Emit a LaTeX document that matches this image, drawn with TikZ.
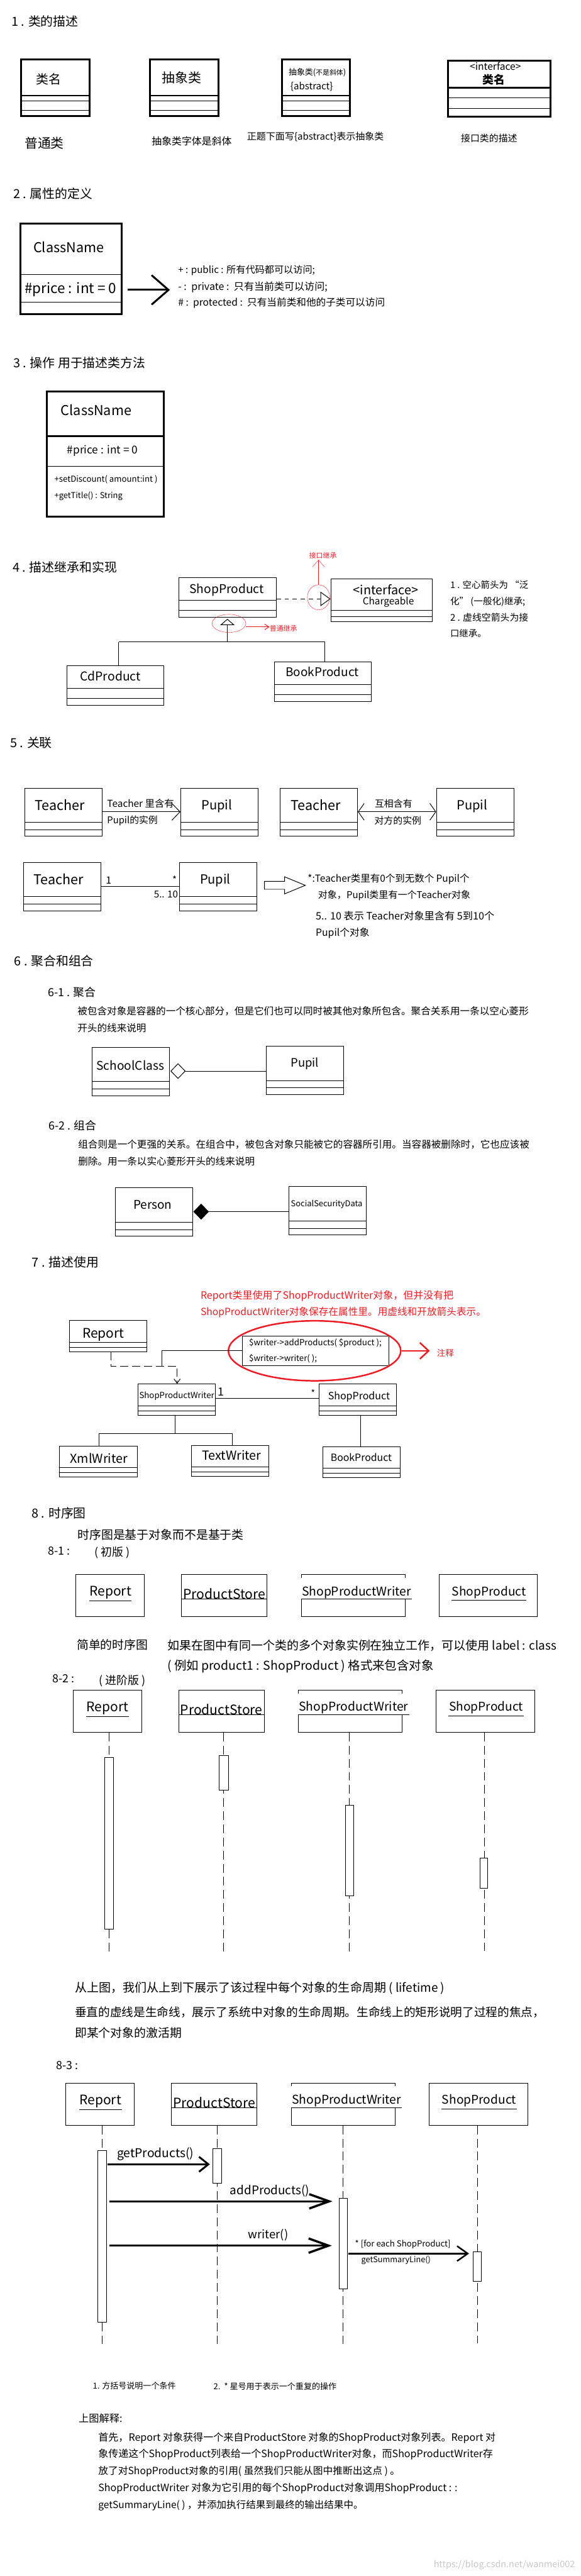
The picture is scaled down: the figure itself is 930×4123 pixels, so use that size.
\documentclass[tikz,border=0pt]{standalone}
\usepackage{fontspec}
\setmainfont{Noto Sans CJK SC}
\usetikzlibrary{arrows.meta,fit,shapes.geometric}
\definecolor{notered}{RGB}{237,28,36}
\newlength{\fitlen}
% set a line at the font size that gives it the width asked for
\newcommand{\fitt}[2]{\settowidth{\fitlen}{\fontsize{10}{10}\selectfont #2}%
    \pgfmathsetmacro{\fitsize}{10*#1/\fitlen}\fontsize{\fitsize}{\fitsize}\selectfont #2}
\newcommand{\fitw}[2]{\fitt{#1}{\rule[-.25em]{0pt}{1.26em}#2}}
\newcommand{\fitl}[2]{\fitt{#1}{\rule[-.25em]{0pt}{1em}#2}}
\tikzset{
    txt/.style={inner sep=0pt, anchor=west, font=\fontsize{#1}{#1}\selectfont,
        execute at begin node={\rule[-.25em]{0pt}{1.26em}}},
    cname/.style={txt=#1, anchor=center},
    lbl/.style={inner sep=0pt, anchor=center},
    lblw/.style={inner sep=0pt, anchor=west},
    heading/.style={txt=20},
    umlbox/.style={draw, line width=1pt, inner sep=0pt},
    umlheavy/.style={line width=3pt},
    objbox/.style={draw, line width=1pt, inner sep=0pt, minimum height=67.2pt},
    objlabel/.style={inner sep=0pt, anchor=south, text height=20pt, text depth=#1},
    lifeline/.style={line width=.8pt, dash pattern=on 14pt off 7pt},
    actbar/.style={draw, fill=white, line width=1pt, inner sep=0pt},
    redloop/.style={ellipse, draw=notered, inner sep=0pt},
    barb/.style n args={2}{-{Straight Barb[length=#1,width=#2]}}
}
\newcommand{\umlclass}[7][]{%
    \node[umlbox,#1,fit={(#3,#4)(#5,#6)}] (#2) {};
    \foreach \ly in {#7} \draw[line width=1pt] (#2.west |- 0,\ly) -- (#2.east |- 0,\ly);
}
\newcommand{\seqheads}[3]{%
    \begin{scope}[shift={(#2,#3)}, name prefix=#1]
        \node[objbox, minimum width=109.7pt] (report) at (176.5,33.6) {};
        \node[objbox, minimum width=137pt] (store) at (359.1,33.6) {};
        \node[objbox, minimum width=166.1pt] (writer) at (565.8,33.6) {};
        \node[objbox, minimum width=157.8pt] (product) at (781.7,33.6) {};
        \node[objlabel=7.9pt, minimum width=67.6pt] (reportLabel) at (176.8,42.3) {\fitt{67}{Report}};
        \node[objlabel=0pt, minimum width=137pt] (storeLabel) at (359.1,39.1) {\fitt{131.7}{ProductStore}};
        \node[objlabel=5.5pt, fill=white, minimum width=177.5pt, text height=28.5pt] (writerLabel) at (570.7,39.1) {\fitt{175}{ShopProductWriter}};
        \node[objlabel=7.5pt, minimum width=119.8pt] (productLabel) at (782.9,41.1) {\fitt{118.6}{ShopProduct}};
        \foreach \who in {report,store,writer,product}
            \draw[line width=1pt] (\who Label.south west) -- (\who Label.south east);
    \end{scope}
}

\begin{document}
\begin{tikzpicture}[x=1pt,y=-1pt]
    \useasboundingbox (0,0) rectangle (930,4123);

    % 1
    \node[heading] (titleOne) at (18,34) {1 . 类的描述};
    \umlclass[umlheavy]{plainClass}{34}{95}{143}{186}{162,176.5}
    \umlclass[umlheavy]{italicClass}{240}{95}{350}{186}{162,176.5}
    \umlclass[umlheavy]{braceClass}{451}{95}{560}{186}{162,176.5}
    \umlclass[umlheavy]{faceClass}{717}{97}{881}{187}{156.5,173.4}
    \draw[umlheavy] (plainClass.west |- 0,153) -- (plainClass.east |- 0,153);
    \draw[umlheavy] (italicClass.west |- 0,153) -- (italicClass.east |- 0,153);
    \draw[umlheavy] (braceClass.west |- 0,153) -- (braceClass.east |- 0,153);
    \draw[umlheavy] (faceClass.west |- 0,140) -- (faceClass.east |- 0,140);
    \node[cname=20] (plainName) at (78,127) {类名};
    \node[cname=21] (italicName) at (291,124) {抽象类};
    \node[cname=13] (braceName) at (508,115.6) {抽象类({\fontsize{11}{11}\selectfont 不是斜体})};
    \node[lbl] (braceTag) at (499,139) {\fitl{68}{\{abstract\}}};
    \node[lbl] (faceTag) at (793,108) {\fitl{82}{<interface>}};
    \node[cname=18, font=\fontsize{18}{18}\selectfont\bfseries] (faceName) at (790.6,128) {类名};
    \node[cname=21] (plainNote) at (71,229) {普通类};
    \node[cname=16] (italicNote) at (307,225.5) {抽象类字体是斜体};
    \node[lbl] (braceNote) at (505,218) {\fitw{219}{正题下面写\{abstract\}表示抽象类}};
    \node[cname=15] (faceNote) at (783,221) {接口类的描述};

    % 2
    \node[heading] (titleTwo) at (21,310) {2 . 属性的定义};
    \umlclass[umlheavy]{attrClass}{33}{358}{194.5}{503}{439.5,483.5}
    \node[lbl] (attrName) at (110,398) {\fitl{113}{ClassName}};
    \node[lbl] (attrPrice) at (113,464) {\fitl{147}{\#price : int = 0}};
    \coordinate (attrFrom) at (204,464);
    \coordinate (attrTo) at (272,464);
    \draw[umlheavy, barb={27pt}{47pt}] (attrFrom) -- (attrTo);
    \node[lblw] (attrPublic) at (285,432) {\fitw{219}{+ : public : 所有代码都可以访问;}};
    \node[lblw] (attrPrivate) at (285,458) {\fitw{239}{- :\, private :\, 只有当前类可以访问;}};
    \node[lblw] (attrProtected) at (285,484) {\fitw{331}{\# :\, protected :\, 只有当前类和他的子类可以访问}};

    % 3
    \node[heading] (titleThree) at (21,580.5) {3 . 操作 用于描述类方法};
    \umlclass[umlheavy]{opClass}{75}{627}{262}{826.6}{746}
    \draw[umlheavy] (opClass.west |- 0,698) -- (opClass.east |- 0,698);
    \node[lbl] (opName) at (154,659) {\fitl{113}{ClassName}};
    \node[lbl] (opPrice) at (164,722) {\fitl{113}{\#price : int = 0}};
    \node[lblw] (opFirst) at (87,768) {\fitl{165}{+setDiscount( amount:int )}};
    \node[lblw] (opSecond) at (87,794) {\fitl{109}{+getTitle() : String}};

    % 4
    \node[heading] (titleFour) at (20,908) {4 . 描述继承和实现};
    \umlclass{shopProduct}{286.5}{924.6}{442}{987.7}{960.5,976.6}
    \umlclass{chargeable}{529.6}{926.5}{691.6}{995}{976.6,986.6}
    \umlclass{cdProduct}{107.4}{1065.4}{262.7}{1128.5}{1101.4,1117.4}
    \umlclass{bookProduct}{439.5}{1059.3}{594.3}{1122.8}{1095.6,1111.3}
    \node[lbl] (shopName) at (363,944.5) {\fitl{119}{ShopProduct}};
    \node[lbl] (chargeTag) at (617.4,946) {\fitl{104}{<interface>}};
    \node[lbl] (chargeName) at (621.6,964) {\fitl{82}{Chargeable}};
    \node[lbl] (cdName) at (176.7,1084) {\fitl{97}{CdProduct}};
    \node[lbl] (bookName) at (516,1077.6) {\fitl{117}{BookProduct}};
    \draw[line width=1pt, dash pattern=on 7pt off 6pt, -{Triangle[open,length=16pt,width=23pt]}]
        (shopProduct.east |- 0,958.6) -- (chargeable.west |- 0,958.6);
    \coordinate (inhJoin) at (364,1027.5);
    \coordinate (inhLeft) at (190,1027.5);
    \coordinate (inhRight) at (520,1027.5);
    \draw[line width=1pt] (inhLeft) -- (inhRight);
    \draw[line width=1pt] (inhLeft) -- (inhLeft |- cdProduct.north);
    \draw[line width=1pt] (inhRight) -- (inhRight |- bookProduct.north);
    \draw[line width=1pt, shorten >=2.3pt, -{Triangle[open,length=10pt,width=23pt]}]
        (inhJoin) -- (inhJoin |- shopProduct.south);
    \node[redloop, minimum width=36pt, minimum height=40pt] (faceLoop) at (510,956) {};
    \node[redloop, minimum width=54pt, minimum height=29pt] (extLoop) at (366.5,997.7) {};
    \node[cname=11, text=notered] (faceRed) at (517,889) {接口继承};
    \node[cname=11, text=notered] (extRed) at (453.7,1006) {普通继承};
    \draw[notered, barb={11pt}{19pt}] (faceLoop.north) -- (faceLoop.north |- 0,896);
    \draw[notered, line width=1pt, barb={7pt}{9pt}] (extLoop.east |- 0,1003.4) -- (extRed.west |- 0,1003.4);
    \node[lblw] (ruleA) at (720.6,935.7) {\fitw{125}{1 . 空心箭头为 “泛}};
    \node[lblw] (ruleB) at (720.6,962) {\fitw{120}{化” (一般化)继承;}};
    \node[lblw] (ruleC) at (720.6,988) {\fitw{125}{2 . 虚线空箭头为接}};
    \node[txt=14.5] (ruleD) at (720.6,1014) {口继承。};

    % 5
    \node[heading] (titleFive) at (16,1189) {5 . 关联};
    \umlclass{teacherA}{39.7}{1261.3}{163.7}{1338.7}{1316.3,1328.3}
    \umlclass{pupilA}{289.4}{1261.3}{413.4}{1338.7}{1316.3,1328.3}
    \umlclass{teacherB}{448.4}{1261.3}{572.4}{1338.7}{1316.3,1328.3}
    \umlclass{pupilB}{698.7}{1261.3}{822.6}{1338.7}{1316.3,1328.3}
    \umlclass{teacherC}{37.4}{1380.3}{161.3}{1457.7}{1435.3,1447.3}
    \umlclass{pupilC}{287.7}{1380.3}{411.6}{1457.7}{1435.3,1447.3}
    \node[lbl] (teacherAName) at (96,1291) {\fitl{80}{Teacher}};
    \node[lbl] (pupilAName) at (347,1290) {\fitl{49}{Pupil}};
    \node[lbl] (teacherBName) at (505.3,1291) {\fitl{80}{Teacher}};
    \node[lbl] (pupilBName) at (755.6,1290) {\fitl{49}{Pupil}};
    \node[lbl] (teacherCName) at (93.7,1410.3) {\fitl{80}{Teacher}};
    \node[lbl] (pupilCName) at (344.6,1409.3) {\fitl{49}{Pupil}};
    \draw[line width=1pt, barb={13pt}{27pt}] (teacherA.east |- 0,1299.3) -- (pupilA.west |- 0,1299.3);
    \draw[line width=1pt, {Straight Barb[length=9.5pt,width=27pt]}-{Straight Barb[length=9.5pt,width=27pt]}]
        (teacherB.east |- 0,1299.3) -- (pupilB.west |- 0,1299.3);
    \draw[line width=1pt] (teacherC.east |- 0,1418.3) -- (pupilC.west |- 0,1418.3);
    \node[lblw] (assocA) at (171.4,1286) {\fitw{107}{Teacher 里含有}};
    \node[lblw] (assocB) at (171.4,1312) {\fitw{80.7}{Pupil的实例}};
    \node[cname=15] (assocC) at (630,1286.7) {互相含有};
    \node[cname=15] (assocD) at (637,1313) {对方的实例};
    \node[cname=16] (multOne) at (173.8,1408.7) {1};
    \node[cname=15] (multStar) at (279.4,1407.7) {*};
    \node[lbl] (multRange) at (265.7,1433.3) {\fitl{38.5}{5.. 10}};
    \draw[line width=1pt] (423.5,1410.7) -- (455.5,1410.7) -- (455.5,1403.3) -- (488.7,1417)
        -- (455.5,1430.7) -- (455.5,1423.3) -- (423.5,1423.3) -- cycle;
    \node[lblw] (multA) at (492.3,1406) {\fitw{259}{*:Teacher类里有0个到无数个 Pupil个}};
    \node[lblw] (multB) at (509,1432) {\fitw{244}{对象，Pupil类里有一个Teacher对象}};
    \node[lblw] (multC) at (505.3,1465.7) {\fitw{286}{5.. 10 表示 Teacher对象里含有 5到10个}};
    \node[lblw] (multD) at (505.3,1492.7) {\fitw{86}{Pupil个对象}};

    % 6
    \node[heading] (titleSix) at (22.5,1538.3) {6 . 聚合和组合};
    \node[txt=18] (titleSixA) at (76.5,1588) {6-1 . 聚合};
    \node[txt=15.7] (aggA) at (124,1618.3) {被包含对象是容器的一个核心部分，但是它们也可以同时被其他对象所包含。聚合关系用一条以空心菱形};
    \node[txt=15.7] (aggB) at (124,1645.7) {开头的线来说明};
    \umlclass{schoolClass}{147.7}{1676.3}{271.6}{1753.7}{1731.3,1743.3}
    \umlclass{pupilD}{425.9}{1674.3}{549.8}{1751.7}{1729.3,1741.3}
    \node[lbl] (schoolName) at (208.8,1707.7) {\fitl{108.5}{SchoolClass}};
    \node[lbl] (pupilDName) at (488,1702.3) {\fitl{45}{Pupil}};
    \node[diamond, draw, line width=1pt, inner sep=0pt, minimum width=23.2pt, minimum height=24pt] (aggTip) at (285,1714.3) {};
    \draw[line width=1pt] (aggTip.east) -- (pupilD.west |- aggTip.east);
    \node[txt=18] (titleSixB) at (77.7,1801) {6-2 . 组合};
    \node[txt=15.7] (compA) at (125,1831.7) {组合则是一个更强的关系。在组合中，被包含对象只能被它的容器所引用。当容器被删除时，它也应该被};
    \node[txt=15.7] (compB) at (125,1859) {删除。用一条以实心菱形开头的线来说明};
    \umlclass{personClass}{184.5}{1901.3}{308.4}{1978.7}{1956.3,1968.3}
    \umlclass{socialClass}{462.6}{1899.3}{586.6}{1976.7}{1954.3,1966.3}
    \node[lbl] (personName) at (244.4,1930.7) {\fitl{62}{Person}};
    \node[lbl] (socialName) at (523,1927.3) {\fitl{114.5}{SocialSecurityData}};
    \node[diamond, draw, fill=black, line width=1pt, inner sep=0pt, minimum width=23.8pt, minimum height=24.4pt] (compTip) at (322,1939.3) {};
    \draw[line width=1pt] (compTip.east) -- (socialClass.west |- compTip.east);

    % 7
    \node[heading] (titleSeven) at (51,2020) {7 . 描述使用};
    \node[lblw, text=notered] (useA) at (320.9,2072.7) {\fitw{405}{Report类里使用了ShopProductWriter对象，但并没有把}};
    \node[lblw, text=notered] (useB) at (320.9,2099.3) {\fitw{457}{ShopProductWriter对象保存在属性里。用虚线和开放箭头表示。}};
    \umlclass{reportClass}{111.5}{2113.3}{235.5}{2163.3}{2148.3,2156.3}
    \umlclass{writerClass}{220.6}{2215.3}{344.6}{2265.3}{2250.3,2258.3}
    \umlclass{productClass}{510.7}{2215.3}{634.6}{2265.3}{2250.3,2258.3}
    \umlclass{xmlClass}{95.5}{2314.3}{219.5}{2364.3}{2349.3,2357.3}
    \umlclass{textClass}{306.6}{2313.3}{430.6}{2363.3}{2348.3,2356.3}
    \umlclass{bookClass}{516.6}{2315.3}{640.6}{2365.3}{2350.3,2358.3}
    \node[umlbox, fit={(388.5,2138.3)(622.8,2185.3)}] (codeNote) {};
    \node[lbl] (reportName) at (165.5,2136) {\fitl{67}{Report}};
    \node[lbl] (writerName) at (283,2234.7) {\fitl{120}{ShopProductWriter}};
    \node[lbl] (productName) at (574.7,2235.3) {\fitl{99}{ShopProduct}};
    \node[lbl] (xmlName) at (158.4,2336) {\fitl{92}{XmlWriter}};
    \node[lbl] (textName) at (370.7,2331.7) {\fitl{95}{TextWriter}};
    \node[lbl] (bookName2) at (578.3,2334.3) {\fitl{98}{BookProduct}};
    \node[lblw] (codeA) at (398.6,2149.7) {\fitl{212}{\$writer->addProducts( \$product );}};
    \node[lblw] (codeB) at (398.6,2174.7) {\fitl{108.5}{\$writer->writer( );}};
    \node[redloop, line width=2.5pt, minimum width=276pt, minimum height=96pt] (codeLoop) at (503.6,2162) {};
    \node[cname=13.5, text=notered] (codeRed) at (713,2166) {注释};
    \draw[notered, line width=2.5pt, barb={14pt}{26pt}] (codeLoop.east) -- (688,2162);
    \coordinate (noteCorner) at (259.2,2161.3);
    \coordinate (useCorner) at (259.2,2186.7);
    \draw[line width=1pt] (codeNote.west |- noteCorner) -- (noteCorner) -- (useCorner);
    \coordinate (dashA) at (177.3,2186.7);
    \coordinate (dashB) at (283.5,2186.7);
    \draw[line width=1pt, dash pattern=on 13pt off 6pt, barb={7pt}{10pt}]
        (reportClass.south -| dashA) -- (dashA) -- (dashB) -- (writerClass.north -| dashB);
    \draw[line width=1pt] (writerClass.east |- 0,2238.3) -- (productClass.west |- 0,2238.3);
    \node[cname=18] (useOne) at (353.5,2227.3) {1};
    \node[cname=14] (useStar) at (501.2,2229.7) {*};
    \coordinate (treeTop) at (280.5,2294.3);
    \coordinate (treeLeft) at (158.4,2294.3);
    \coordinate (treeRight) at (372,2294.3);
    \draw[line width=1pt] (treeTop |- writerClass.south) -- (treeTop);
    \draw[line width=1pt] (treeLeft) -- (treeRight);
    \draw[line width=1pt] (treeLeft) -- (treeLeft |- xmlClass.north);
    \draw[line width=1pt] (treeRight) -- (treeRight |- textClass.north);
    \coordinate (bookDrop) at (577.7,2290);
    \draw[line width=1pt] (bookDrop |- productClass.south) -- (bookDrop |- bookClass.north);

    % 8
    \node[heading] (titleEight) at (50.4,2421.7) {8 . 时序图};
    \node[txt=19] (seqIntro) at (124,2456) {时序图是基于对象而不是基于类};
    \node[txt=18] (seqOne) at (76.5,2481.6) {8-1 :};
    \node[txt=18] (seqOneTag) at (151,2483.6) {( 初版 )};
    \seqheads{rowA}{0}{2520.4}
    \node[txt=19] (seqSimple) at (122.8,2632.7) {简单的时序图};
    \node[lblw] (seqLabelA) at (268,2633) {\fitw{623}{如果在图中有同一个类的多个对象实例在独立工作，可以使用 label : class}};
    \node[lblw] (seqLabelB) at (268,2666) {\fitw{426}{( 例如 product1 : ShopProduct ) 格式来包含对象}};
    \node[txt=18] (seqTwo) at (83.6,2686.5) {8-2 :};
    \node[txt=18] (seqTwoTag) at (158.4,2689.6) {( 进阶版 )};
    \seqheads{rowB}{-4.7}{2705.4}
    \foreach \who/\lx/\ly in {report/174.4/3125.6,store/358.2/3125.6,writer/559.3/3127,product/775.2/3122}
        \draw[lifeline] (\lx,0 |- rowB\who.south) -- (\lx,\ly);
    \node[actbar, fit={(167.3,2813)(181.5,3087.4)}] (barBreport) {};
    \node[actbar, fit={(351.1,2810.2)(365.4,2865.6)}] (barBstore) {};
    \node[actbar, fit={(553.4,2889.3)(566.4,3034.4)}] (barBwriter) {};
    \node[actbar, fit={(768.7,2974.3)(781.1,3022.6)}] (barBproduct) {};
    \node[lblw] (lifeA) at (119.8,3181.2) {\fitw{592}{从上图，我们从上到下展示了该过程中每个对象的生命周期 ( lifetime )}};
    \node[txt=18.8] (lifeB) at (119.8,3220.9) {垂直的虚线是生命线，展示了系统中对象的生命周期。生命线上的矩形说明了过程的焦点，};
    \node[txt=19] (lifeC) at (119.8,3254) {即某个对象的激活期};
    \node[txt=18] (seqThree) at (89.6,3305.5) {8-3 :};
    \seqheads{rowC}{-16}{3334.3}
    \foreach \who/\lx/\ly in {report/163.7/3755,store/347.6/3755,writer/548.6/3755.7,product/764.5/3750.7}
        \draw[lifeline] (\lx,0 |- rowC\who.south) -- (\lx,\ly);
    \node[actbar, fit={(156.6,3442.2)(170.8,3716.7)}] (barCreport) {};
    \node[actbar, fit={(340.5,3439.3)(354.7,3494.2)}] (barCstore) {};
    \node[actbar, fit={(542.7,3518.6)(555.8,3663.3)}] (barCwriter) {};
    \node[actbar, fit={(757.4,3603.6)(770.5,3651.3)}] (barCproduct) {};
    \draw[line width=3pt, barb={15pt}{24pt}, shorten <=1pt, shorten >=4pt]
        (barCreport.east |- 0,3464) -- (barCstore.west |- 0,3464);
    \draw[line width=3.5pt, barb={32pt}{23pt}, shorten <=4pt, shorten >=10pt]
        (barCreport.east |- 0,3523.3) -- (barCwriter.west |- 0,3523.3);
    \draw[line width=3.5pt, barb={32pt}{23pt}, shorten <=4pt, shorten >=11pt]
        (barCreport.east |- 0,3594.2) -- (barCwriter.west |- 0,3594.2);
    \draw[line width=2.5pt, barb={17pt}{24pt}, shorten <=1pt, shorten >=6pt]
        (barCwriter.east |- 0,3606.9) -- (barCproduct.west |- 0,3606.9);
    \node[lbl] (callA) at (249,3448) {\fitl{123}{getProducts()}};
    \node[lbl] (callB) at (431.8,3506.6) {\fitl{127}{addProducts()}};
    \node[lbl] (callC) at (429.4,3577.8) {\fitl{64}{writer()}};
    \node[lblw] (callD) at (568.2,3592.4) {\fitl{153}{* [for each ShopProduct]}};
    \node[lblw] (callE) at (578.3,3617.8) {\fitl{111}{getSummaryLine()}};

    \node[lblw] (noteA) at (148.3,3819) {\fitw{133}{1. 方括号说明一个条件}};
    \node[lblw] (noteB) at (341.6,3819) {\fitw{197}{2.\, * 星号用于表示一个重复的操作}};
    \node[lblw] (explain) at (125.7,3870.7) {\fitw{70}{上图解释:}};
    \node[lblw] (explainA) at (157.2,3900.7) {\fitw{636}{首先，Report 对象获得一个来自ProductStore 对象的ShopProduct对象列表。Report 对}};
    \node[lblw] (explainB) at (157.2,3927.3) {\fitw{631.7}{象传递这个ShopProduct列表给一个ShopProductWriter对象，而ShopProductWriter存}};
    \node[lblw] (explainC) at (157.2,3954.3) {\fitw{483}{放了对ShopProduct对象的引用( 虽然我们只能从图中推断出这点 ) 。}};
    \node[lblw] (explainD) at (157.2,3981.3) {\fitw{575}{ShopProductWriter 对象为它引用的每个ShopProduct对象调用ShopProduct : :}};
    \node[lblw] (explainE) at (157.2,4008.7) {\fitw{424}{getSummaryLine( ) ，并添加执行结果到最终的输出结果中。}};
    \node[lbl, anchor=east, text=black!22] (mark) at (920.5,4105) {\fitl{226}{https://blog.csdn.net/wanmei002}};
\end{tikzpicture}
\end{document}
